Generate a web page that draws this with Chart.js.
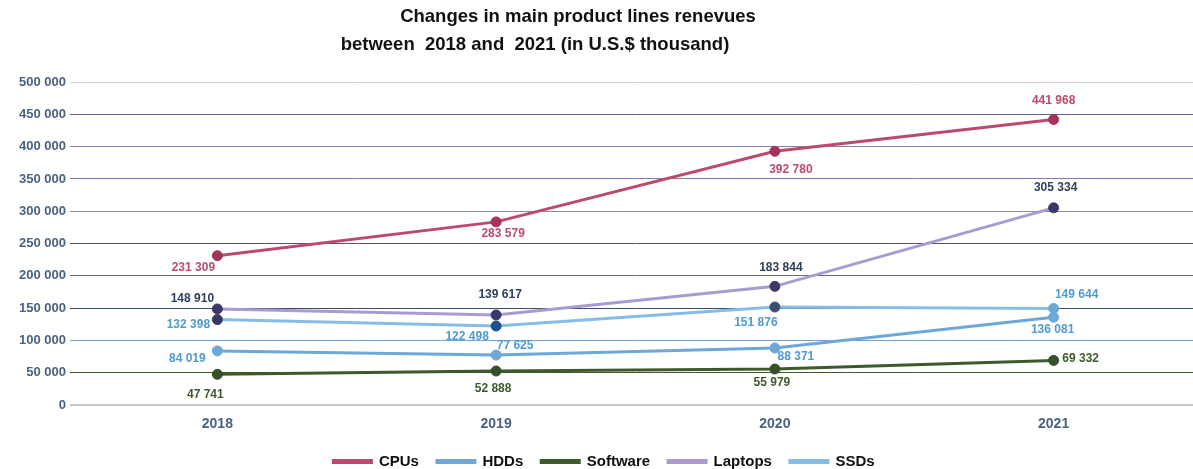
<!DOCTYPE html>
<html>
<head>
<meta charset="utf-8">
<script src="https://cdn.jsdelivr.net/npm/chart.js@4"></script>
<style>
  html, body { margin: 0; padding: 0; background: #fff; }
  #wrap { width: 1193px; height: 469px; }
</style>
</head>
<body>
<div id="wrap"><canvas id="chart" width="1193" height="469"></canvas></div>
<script>
const years = ["2018", "2019", "2020", "2021"];
const cpus = [231309, 283579, 392780, 441968];
const hdds = [84019, 77625, 88371, 136081];
const software = [47741, 52888, 55979, 69332];
const laptops = [148910, 139617, 183844, 305334];
const ssds = [132398, 122498, 151876, 149644];
const titleLines = ["Changes in main product lines renevues", "between  2018 and  2021 (in U.S.$ thousand)"];

// label placement per point: [dx, dy] from the marker
const cpuLabelPos = [[-24, 12], [7, 12], [16, 18], [0, -19]];
const hddLabelPos = [[-30, 8], [19, -9], [21, 9], [-1, 12]];
const softLabelPos = [[-12, 20], [-3, 18], [-3, 14], [27, -2]];
const laptopLabelPos = [[-25, -10], [4, -20], [6, -19], [2, -20]];
const ssdLabelPos = [[-29, 5], [-29, 11], [-19, 16], [23, -14]];

const fmt = v => String(v).replace(/\B(?=(\d{3})+(?!\d))/g, " ");
const FONT = "'Liberation Sans', Arial, sans-serif";

// title is drawn by hand, the two lines are not centred on the same x in the original
const titlePlugin = {
  id: "titleLines",
  afterDraw(chart) {
    const ctx = chart.ctx;
    ctx.save();
    ctx.font = "bold 18.5px " + FONT;
    ctx.fillStyle = "#111";
    ctx.textAlign = "center";
    ctx.textBaseline = "middle";
    ctx.fillText(titleLines[0], 578, 17);
    ctx.fillText(titleLines[1], 535, 45);
    ctx.restore();
  }
};

// draws the value labels next to each marker
const valueLabels = {
  id: "valueLabels",
  afterDatasetsDraw(chart) {
    const ctx = chart.ctx;
    ctx.save();
    ctx.font = "bold 12px " + FONT;
    ctx.textAlign = "center";
    ctx.textBaseline = "middle";
    chart.data.datasets.forEach((ds, i) => {
      const meta = chart.getDatasetMeta(i);
      meta.data.forEach((pt, j) => {
        const off = ds.labelPos[j];
        ctx.fillStyle = ds.labelColor;
        ctx.fillText(fmt(ds.data[j]), pt.x + off[0], pt.y + off[1]);
      });
    });
    ctx.restore();
  }
};

const gridColors = ["#c8c8c8", "#3f5a30", "#6fa6d6", "#3e4c6c", "#6a6a78",
  "#5c4f80", "#8c8c96", "#8576b4", "#8a7fa8", "#6c5f8c", "#d0d0d0"];

new Chart(document.getElementById("chart"), {
  type: "line",
  data: {
    labels: years,
    datasets: [
      {
        label: "CPUs", data: cpus, borderColor: "#bc4a70", backgroundColor: "#a0505e",
        pointBackgroundColor: "#a3345c", pointBorderColor: "#a3345c",
        labelColor: "#c04a6e", labelPos: cpuLabelPos
      },
      {
        label: "HDDs", data: hdds, borderColor: "#6ea8d6", backgroundColor: "#6ea8d6",
        pointBackgroundColor: "#6ea8d6", pointBorderColor: "#6ea8d6",
        labelColor: "#4f9ad0", labelPos: hddLabelPos
      },
      {
        label: "Software", data: software, borderColor: "#3e5a2c", backgroundColor: "#5d7c4c",
        pointBackgroundColor: "#35502a", pointBorderColor: "#35502a",
        labelColor: "#3e5a2c", labelPos: softLabelPos
      },
      {
        label: "Laptops", data: laptops, borderColor: "#a99bd2", backgroundColor: "#4a5e80",
        pointBackgroundColor: "#3a3868", pointBorderColor: "#3a3868",
        labelColor: "#2e3f5c", labelPos: laptopLabelPos
      },
      {
        label: "SSDs", data: ssds, borderColor: "#86bde6", backgroundColor: "#4a86c0",
        pointBackgroundColor: ["#363a66", "#1f4f8c", "#3e4e6e", "#6aa8d6"],
        pointBorderColor: ["#363a66", "#1f4f8c", "#3e4e6e", "#6aa8d6"],
        labelColor: "#4f9ad0", labelPos: ssdLabelPos
      }
    ]
  },
  options: {
    responsive: false,
    animation: false,
    devicePixelRatio: 1,
    layout: { autoPadding: false, padding: { left: 15, right: 0, top: 82, bottom: -10 } },
    elements: {
      line: { borderWidth: 3, tension: 0 },
      point: { radius: 5, borderWidth: 1 }
    },
    plugins: {
      title: { display: false },
      legend: {
        position: "bottom",
        labels: {
          color: "#111",
          font: { family: FONT, size: 15, weight: "bold" },
          boxWidth: 38,
          boxHeight: 2,
          padding: 18
        }
      },
      tooltip: { enabled: false }
    },
    scales: {
      x: {
        offset: true,
        grid: { display: false },
        border: { display: false },
        ticks: {
          color: "#4a6282",
          font: { family: FONT, size: 14, weight: "bold" },
          padding: 3
        }
      },
      y: {
        min: 0,
        max: 500000,
        border: { display: false },
        grid: {
          color: gridColors,
          lineWidth: (c) => (c.index === 0 ? 2 : 1),
          drawTicks: true,
          tickLength: 8
        },
        ticks: {
          stepSize: 50000,
          color: "#4a6282",
          font: { family: FONT, size: 13, weight: "bold" },
          padding: 4,
          callback: v => fmt(v)
        }
      }
    }
  },
  plugins: [valueLabels, titlePlugin]
});
</script>
</body>
</html>
